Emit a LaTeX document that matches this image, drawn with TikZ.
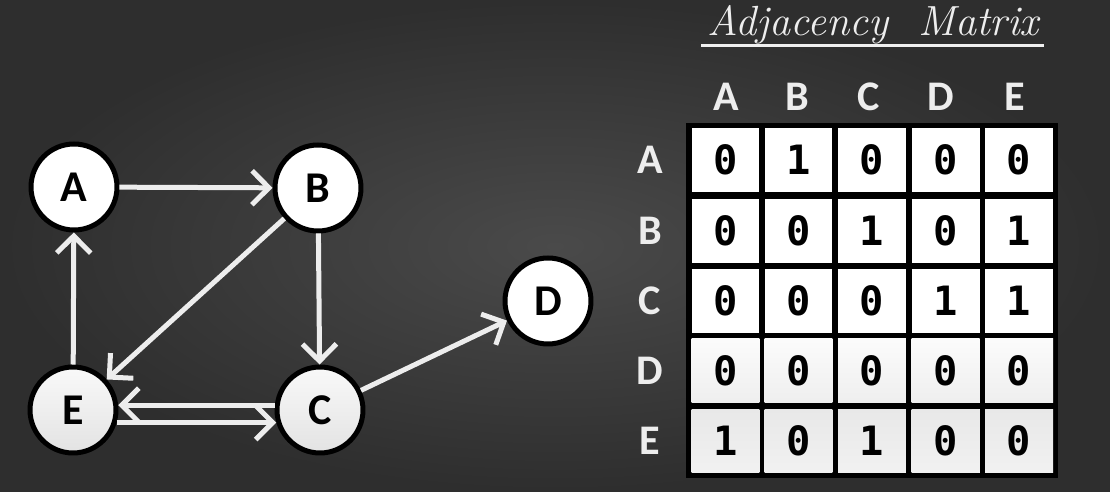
\documentclass[tikz,border=0pt]{standalone}
\usepackage{fontspec}
\usetikzlibrary{arrows.meta}
\newfontfamily\lblfont{Carlito}
\newfontfamily\digitfont{DejaVu Sans Mono}
\definecolor{chalk}{HTML}{EDEDED}
\tikzset{
	vertex/.style={circle, draw=black, line width=1mm, minimum size=1.72cm, inner sep=0pt, fill=white, font=\lblfont\bfseries\fontsize{25}{25}\selectfont},
	vertexgray/.style={vertex, top color=gray!5, bottom color=gray!22},
	edge/.style={draw=chalk, line width=1mm, -{Straight Barb[length=3.4mm, width=6.8mm]}},
	cell/.style={rectangle, fill=white, minimum width=1.36cm, minimum height=1.28cm, inner sep=0pt, font=\digitfont\bfseries\fontsize{23}{23}\selectfont},
	cellD/.style={cell, top color=gray!3, bottom color=gray!13},
	cellE/.style={cell, top color=gray!18, bottom color=gray!11},
	headlbl/.style={text=chalk, font=\lblfont\bfseries\fontsize{24}{24}\selectfont},
}

\begin{document}
\begin{tikzpicture}[x=0.02cm, y=-0.02cm]
		%%%%% START %%%%%
		
		\useasboundingbox (0, 0) rectangle (1110, 492);
		\shade[inner color=black!71, outer color=black!82] (0, 0) rectangle (1110, 492);
		
		% title
		\node[text=chalk, font=\itshape\fontsize{24}{24}\selectfont] (ttl) at (873, 25) {Adjacency\ \ Matrix};
		\draw[line width=0.6mm, color=chalk!85] (701, 46) -- (1044, 46);
		
		% graph
		\node[vertex] (A) at (74, 187) {A};
		\node[vertex] (B) at (318, 188) {B};
		\node[vertex] (D) at (548, 301) {D};
		\node[vertexgray] (E) at (73, 410) {E};
		\node[vertexgray] (C) at (320, 410) {C};
		
		\draw[edge] (A) -- (B);
		\draw[edge] (B) -- (C);
		\draw[edge] (B) -- (E);
		\draw[edge] (E) -- (A);
		\draw[edge] (C) -- (D);
		\draw[edge] (C.174) -- (E.6);
		\draw[edge] (E.-16) -- (C.196);
		
		% matrix
		\fill[black] (686, 123) rectangle (1058, 478);
		
		\node[headlbl] (hA) at (726, 97) {A};
		\node[headlbl] (hB) at (797, 97) {B};
		\node[headlbl] (hC) at (869, 97) {C};
		\node[headlbl] (hD) at (941, 97) {D};
		\node[headlbl] (hE) at (1015, 97) {E};
		
		\node[headlbl] (rA) at (650, 160) {A};
		\node[headlbl] (rB) at (650, 231) {B};
		\node[headlbl] (rC) at (650, 301) {C};
		\node[headlbl] (rD) at (650, 371) {D};
		\node[headlbl] (rE) at (650, 441) {E};
		
		\node[cell] (mAA) at (725.5, 160) {0};
		\node[cell] (mAB) at (798.5, 160) {1};
		\node[cell] (mAC) at (872, 160) {0};
		\node[cell] (mAD) at (945.5, 160) {0};
		\node[cell] (mAE) at (1019, 160) {0};
		
		\node[cell] (mBA) at (725.5, 231) {0};
		\node[cell] (mBB) at (798.5, 231) {0};
		\node[cell] (mBC) at (872, 231) {1};
		\node[cell] (mBD) at (945.5, 231) {0};
		\node[cell] (mBE) at (1019, 231) {1};
		
		\node[cell] (mCA) at (725.5, 301) {0};
		\node[cell] (mCB) at (798.5, 301) {0};
		\node[cell] (mCC) at (872, 301) {0};
		\node[cell] (mCD) at (945.5, 301) {1};
		\node[cell] (mCE) at (1019, 301) {1};
		
		\node[cellD] (mDA) at (725.5, 371) {0};
		\node[cellD] (mDB) at (798.5, 371) {0};
		\node[cellD] (mDC) at (872, 371) {0};
		\node[cellD] (mDD) at (945.5, 371) {0};
		\node[cellD] (mDE) at (1019, 371) {0};
		
		\node[cellE] (mEA) at (725.5, 441) {1};
		\node[cellE] (mEB) at (798.5, 441) {0};
		\node[cellE] (mEC) at (872, 441) {1};
		\node[cellE] (mED) at (945.5, 441) {0};
		\node[cellE] (mEE) at (1019, 441) {0};
		
		%%%%% END %%%%%
	\end{tikzpicture}
\end{document}
